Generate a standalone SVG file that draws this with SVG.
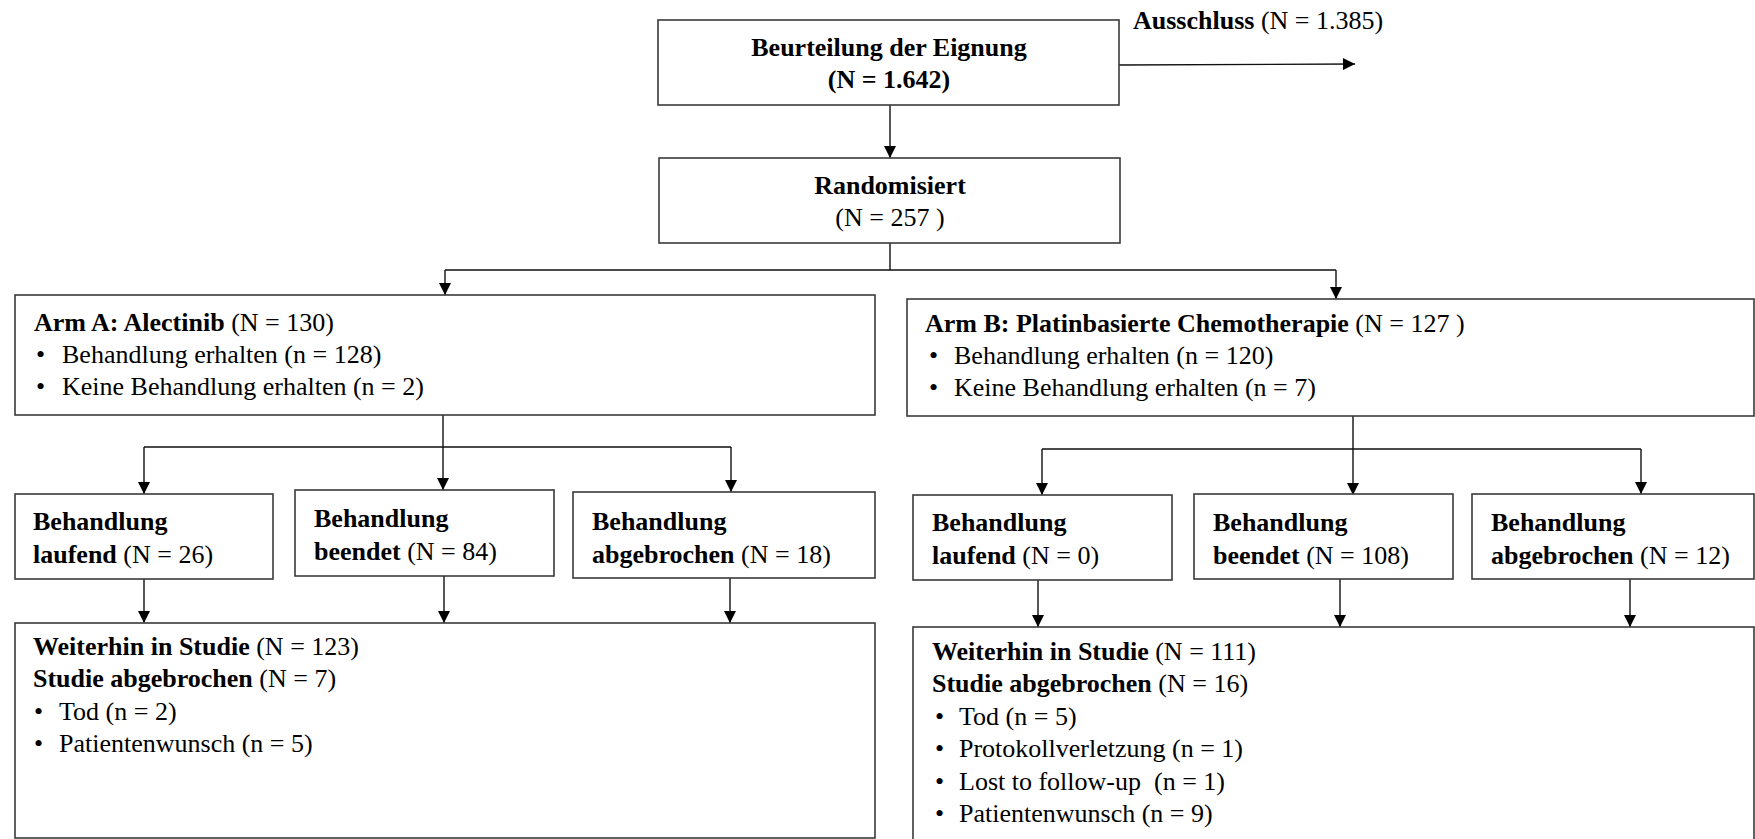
<svg xmlns="http://www.w3.org/2000/svg" width="1755" height="839" viewBox="0 0 1755 839">
<defs>
<marker id="ah" viewBox="0 0 10 10" refX="10" refY="5" markerWidth="14" markerHeight="12" markerUnits="userSpaceOnUse" orient="auto">
<path d="M0,0 L10,5 L0,10 Z" fill="#000"/>
</marker>
</defs>
<style>
rect.b{fill:#fff;stroke:#3a3a3a;stroke-width:1.6}
text{font-family:'Liberation Serif','Times New Roman',serif;font-size:26px;fill:#000}
.bd{font-weight:bold}
.c{text-anchor:middle}
.ln{fill:none;stroke:#111;stroke-width:1.4}
.ar{fill:none;stroke:#111;stroke-width:1.4;marker-end:url(#ah)}
</style>
<rect width="1755" height="839" fill="#fff"/>
<g id="connectors">
<path class="ar" d="M1119,65 L1355,64"/>
<path class="ar" d="M890,105 L890,158"/>
<path class="ln" d="M890,243 L890,270 M445,270 L1336,270"/>
<path class="ar" d="M445,270 L445,295"/>
<path class="ar" d="M1336,270 L1336,299"/>
<path class="ln" d="M443,415 L443,447 M144,447 L731,447"/>
<path class="ar" d="M144,447 L144,494"/>
<path class="ar" d="M443,447 L443,490"/>
<path class="ar" d="M731,447 L731,492"/>
<path class="ar" d="M144,579 L144,623"/>
<path class="ar" d="M444,576 L444,623"/>
<path class="ar" d="M730,578 L730,623"/>
<path class="ln" d="M1353,416 L1353,449 M1042,449 L1641,449"/>
<path class="ar" d="M1042,449 L1042,495"/>
<path class="ar" d="M1353,449 L1353,495"/>
<path class="ar" d="M1641,449 L1641,494"/>
<path class="ar" d="M1038,580 L1038,627"/>
<path class="ar" d="M1340,579 L1340,627"/>
<path class="ar" d="M1630,579 L1630,627"/>
</g>
<g id="eignung">
<rect class="b" x="658" y="20" width="461" height="85"/>
<text class="bd c" x="889" y="56">Beurteilung der Eignung</text>
<text class="bd c" x="889" y="88">(N = 1.642)</text>
</g>
<g id="ausschluss">
<text x="1133" y="29"><tspan class="bd">Ausschluss</tspan> (N = 1.385)</text>
</g>
<g id="randomisiert">
<rect class="b" x="659" y="158" width="461" height="85"/>
<text class="bd c" x="890" y="194">Randomisiert</text>
<text class="c" x="890" y="226">(N = 257 )</text>
</g>
<g id="armA">
<rect class="b" x="15" y="295" width="860" height="120"/>
<text x="34" y="331"><tspan class="bd">Arm A: Alectinib</tspan> (N = 130)</text>
<text x="36" y="363">•</text>
<text x="62" y="363">Behandlung erhalten (n = 128)</text>
<text x="36" y="395">•</text>
<text x="62" y="395">Keine Behandlung erhalten (n = 2)</text>
</g>
<g id="armB">
<rect class="b" x="907" y="299" width="847" height="117"/>
<text x="925" y="332"><tspan class="bd">Arm B: Platinbasierte Chemotherapie</tspan> (N = 127 )</text>
<text x="929" y="364">•</text>
<text x="954" y="364">Behandlung erhalten (n = 120)</text>
<text x="929" y="396">•</text>
<text x="954" y="396">Keine Behandlung erhalten (n = 7)</text>
</g>
<g id="A-laufend">
<rect class="b" x="15" y="494" width="258" height="85"/>
<text class="bd" x="33" y="530">Behandlung</text>
<text x="33" y="563"><tspan class="bd">laufend</tspan> (N = 26)</text>
</g>
<g id="A-beendet">
<rect class="b" x="295" y="490" width="259" height="86"/>
<text class="bd" x="314" y="527">Behandlung</text>
<text x="314" y="560"><tspan class="bd">beendet</tspan> (N = 84)</text>
</g>
<g id="A-abgebrochen">
<rect class="b" x="573" y="492" width="302" height="86"/>
<text class="bd" x="592" y="530">Behandlung</text>
<text x="592" y="563"><tspan class="bd">abgebrochen</tspan> (N = 18)</text>
</g>
<g id="B-laufend">
<rect class="b" x="913" y="495" width="259" height="85"/>
<text class="bd" x="932" y="531">Behandlung</text>
<text x="932" y="564"><tspan class="bd">laufend</tspan> (N = 0)</text>
</g>
<g id="B-beendet">
<rect class="b" x="1194" y="494" width="259" height="85"/>
<text class="bd" x="1213" y="531">Behandlung</text>
<text x="1213" y="564"><tspan class="bd">beendet</tspan> (N = 108)</text>
</g>
<g id="B-abgebrochen">
<rect class="b" x="1472" y="494" width="282" height="85"/>
<text class="bd" x="1491" y="531">Behandlung</text>
<text x="1491" y="564"><tspan class="bd">abgebrochen</tspan> (N = 12)</text>
</g>
<g id="A-studie">
<rect class="b" x="15" y="623" width="860" height="215"/>
<text x="33" y="655"><tspan class="bd">Weiterhin in Studie</tspan> (N = 123)</text>
<text x="33" y="687"><tspan class="bd">Studie abgebrochen</tspan> (N = 7)</text>
<text x="34" y="720">•</text>
<text x="59" y="720">Tod (n = 2)</text>
<text x="34" y="752">•</text>
<text x="59" y="752">Patientenwunsch (n = 5)</text>
</g>
<g id="B-studie">
<rect class="b" x="913" y="627" width="841" height="230"/>
<text x="932" y="660"><tspan class="bd">Weiterhin in Studie</tspan> (N = 111)</text>
<text x="932" y="692"><tspan class="bd">Studie abgebrochen</tspan> (N = 16)</text>
<text x="935" y="725">•</text>
<text x="959" y="725">Tod (n = 5)</text>
<text x="935" y="757">•</text>
<text x="959" y="757">Protokollverletzung (n = 1)</text>
<text x="935" y="790">•</text>
<text x="959" y="790" xml:space="preserve">Lost to follow-up  (n = 1)</text>
<text x="935" y="822">•</text>
<text x="959" y="822">Patientenwunsch (n = 9)</text>
</g>
</svg>
